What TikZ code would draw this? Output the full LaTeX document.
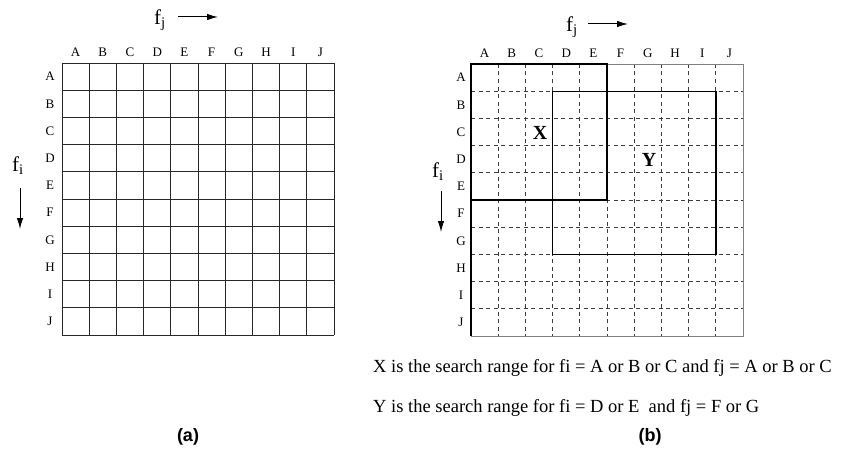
\documentclass[tikz,border=0pt]{standalone}
\usepackage{fontspec}
\setmainfont{Liberation Serif}
\setsansfont{Liberation Sans}
\usetikzlibrary{positioning, arrows.meta}
\definecolor{gridink}{RGB}{40,40,40}
\definecolor{dashink}{RGB}{60,60,60}

\begin{document}
\begin{tikzpicture}[x=1pt, y=-1pt,
  lbl/.style={font=\fontsize{13}{14}\selectfont, inner sep=0pt},
  axislbl/.style={font=\fontsize{21}{22}\selectfont, inner sep=0pt},
  boxlbl/.style={font=\fontsize{20}{22}\selectfont\bfseries, inner sep=0pt},
  note/.style={font=\fontsize{18.5}{20}\selectfont, inner sep=0pt, anchor=west},
  caption/.style={font=\sffamily\bfseries\fontsize{18}{20}\selectfont, inner sep=0pt},
  dir/.style={-{Latex[length=11pt,width=6.5pt]}, line width=1pt}]
\useasboundingbox (0,0) rectangle (846,452);
% (a) plain grid
\foreach \k in {0,...,10} {
  \draw[gridink, line width=0.9pt] (62+27.2*\k,63) -- (62+27.2*\k,335);
  \draw[gridink, line width=0.9pt] (62,63+27.2*\k) -- (334,63+27.2*\k);
}
\foreach \l [count=\k from 0] in {A,...,J} {
  \node[lbl] (ca\l) at (75.6+27.2*\k,52) {\l};
  \node[lbl] (ra\l) at (50,76.6+27.2*\k) {\l};
}
\node[axislbl] (fja) at (160,20) {f\textsubscript{j}};
\coordinate (fjas) at (178,17);
\coordinate (fjae) at (218,17);
\draw[dir] (fjas) -- (fjae);
\node[axislbl] (fia) at (18,166) {f\textsubscript{i}};
\coordinate (fias) at (20,188);
\coordinate (fiae) at (20,229);
\draw[dir] (fias) -- (fiae);
\node[caption] (capa) at (188,437) {(a)};
% (b) dashed grid with search ranges
\foreach \k in {1,...,9} {
  \draw[dashink, line width=0.8pt, dash pattern=on 4pt off 3.5pt] (471+27.2*\k,64) -- (471+27.2*\k,336);
  \draw[dashink, line width=0.8pt, dash pattern=on 4pt off 3.5pt] (471,64+27.2*\k) -- (743,64+27.2*\k);
}
\draw[gray, line width=0.9pt] (471,64) rectangle (743,336);
\draw[black, line width=1.2pt] (471,64) -- (471,336);
\foreach \l [count=\k from 0] in {A,...,J} {
  \node[lbl] (cb\l) at (484.6+27.2*\k,53) {\l};
  \node[lbl] (rb\l) at (461,77.6+27.2*\k) {\l};
}
\draw[black, line width=1.4pt] (471,64) rectangle (607,200);
\draw[black, line width=1.4pt] (552.6,91.2) rectangle (715.8,254.4);
\node[boxlbl] (xr) at (540,133) {X};
\node[boxlbl] (yr) at (649,160) {Y};
\node[axislbl] (fjb) at (572,27) {f\textsubscript{j}};
\coordinate (fjbs) at (588,24);
\coordinate (fjbe) at (628,24);
\draw[dir] (fjbs) -- (fjbe);
\node[axislbl] (fib) at (438,172) {f\textsubscript{i}};
\coordinate (fibs) at (441,191);
\coordinate (fibe) at (441,232);
\draw[dir] (fibs) -- (fibe);
\node[note] (notex) at (373,368) {X is the search range for fi = A or B or C and fj = A or B or C};
\node[note] (notey) at (373,408) {Y is the search range for fi = D or E \ and fj = F or G};
\node[caption] (capb) at (650,437) {(b)};
\end{tikzpicture}
\end{document}
